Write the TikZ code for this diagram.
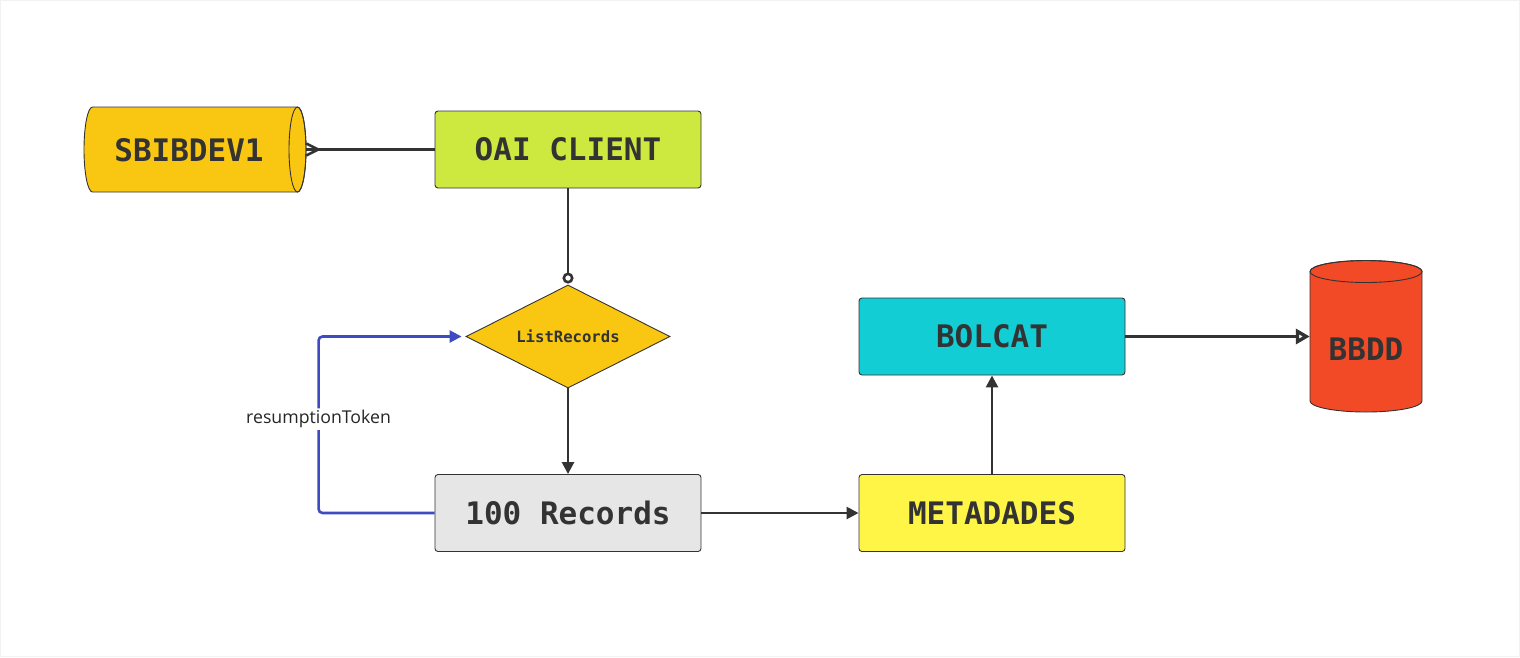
\documentclass[tikz,border=0pt]{standalone}
\usepackage{fontspec}
\setmainfont{Open Sans}
\newfontfamily\monob{DejaVu Sans Mono}
\usetikzlibrary{shapes.geometric,arrows.meta,calc}
\definecolor{ink}{HTML}{333333}
\definecolor{lime}{HTML}{CDE83F}
\definecolor{amber}{HTML}{F9C712}
\definecolor{greybox}{HTML}{E6E6E6}
\definecolor{yellowbox}{HTML}{FFF546}
\definecolor{cyanbox}{HTML}{13CDD4}
\definecolor{redcyl}{HTML}{F24A26}
\definecolor{loopblue}{HTML}{3F4BC0}
\definecolor{framegrey}{HTML}{F2F2F2}
\tikzset{
  procbox/.style={draw=ink, line width=0.9pt, rounded corners=3pt, minimum width=266pt, minimum height=77pt, inner sep=0pt, text=ink, font=\monob\bfseries\fontsize{31}{31}\selectfont},
  conn/.style={draw=ink, line width=2.6pt},
  arr/.style={conn, -{Triangle[length=12pt,width=12pt]}},
  bigtext/.style={text=ink, font=\monob\bfseries\fontsize{31}{31}\selectfont},
}
\begin{document}
\begin{tikzpicture}[x=1pt,y=-1pt]
\useasboundingbox (0,0) rectangle (1520,657);
\draw[framegrey, line width=1pt] (0.5,0.5) rectangle (1519.5,656.5);

% SBIBDEV1 cylinder (horizontal)
\path[fill=amber, draw=ink, line width=0.9pt] (297.5,107) -- (92.5,107) arc (270:90:8.5 and 42.5) -- (297.5,192) arc (90:-90:8.5 and 42.5) -- cycle;
\draw[ink, line width=0.9pt] (297.5,149.5) ellipse (8.5 and 42.5);
\node[minimum width=222pt, minimum height=85pt, inner sep=0pt] (sb) at (195,149.5) {};
\node[bigtext] (sbtext) at (189,150) {SBIBDEV1};

% BBDD cylinder (vertical)
\path[fill=redcyl, draw=ink, line width=0.9pt] (1310,271.5) -- (1310,401) arc (180:0:56 and 11) -- (1422,271.5) arc (0:-180:56 and 11) -- cycle;
\draw[ink, line width=0.9pt] (1366,271.5) ellipse (56 and 11);
\node[minimum width=112pt, minimum height=151pt, inner sep=0pt] (bb) at (1366,336) {};
\node[bigtext] (bbtext) at (1366,349) {BBDD};

% boxes
\node[procbox, fill=lime] (oai) at (568,149.5) {OAI CLIENT};
\node[procbox, fill=greybox] (rec) at (568,513) {100 Records};
\node[procbox, fill=yellowbox] (meta) at (992,513) {METADADES};
\node[procbox, fill=cyanbox] (bolcat) at (992,336.5) {BOLCAT};

% diamond
\node[diamond, aspect=2, draw=ink, line width=0.9pt, fill=amber, minimum width=204pt, minimum height=103pt, inner sep=0pt, text=ink, font=\monob\bfseries\fontsize{15.6}{15.6}\selectfont] (lr) at (568,336.5) {ListRecords};

% connectors
\draw[conn] (oai.west) -- (sb.east);
\draw[conn] ($(sb.east)+(12,0)$) -- ($(sb.east)+(0,-6)$);
\draw[conn] ($(sb.east)+(12,0)$) -- ($(sb.east)+(0,6)$);

\draw[conn, -{Circle[open,length=11pt]}, shorten >=1pt] (oai.south) -- (lr.north);
\draw[arr] (lr.south) -- (rec.north);
\draw[arr] (rec.east) -- (meta.west);
\draw[arr] (meta.north) -- (bolcat.south);
\draw[draw=ink, line width=3.4pt, -{Triangle[open,length=14pt,width=15pt,line width=3.4pt]}] (bolcat.east) -- (bolcat.east -| bb.west);

\draw[draw=loopblue, line width=2.6pt, rounded corners=4pt, -{Triangle[length=12pt,width=12pt]}, shorten >=4pt]
  (rec.west) -- ++(-116,0) |- node[pos=0.266, fill=white, text=black!85, inner sep=2pt, font=\fontsize{17.7}{17.7}\selectfont] (rt) {resumptionToken} (lr.west);
\end{tikzpicture}
\end{document}
